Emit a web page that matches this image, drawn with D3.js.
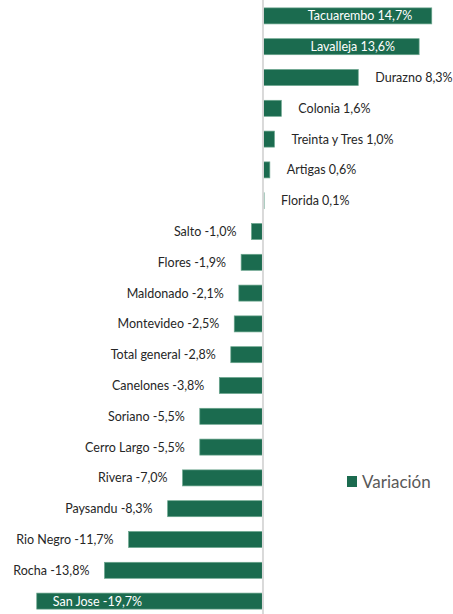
<!DOCTYPE html>
<html>
<head>
<meta charset="utf-8">
<script src="https://cdn.jsdelivr.net/npm/d3@7"></script>
<style>
  body { margin: 0; background: #fff; }
  svg { display: block; }
</style>
</head>
<body>
<div id="chart"></div>
<script>
// departamentos y variacion (%)
var categories = ["Tacuarembo", "Lavalleja", "Durazno", "Colonia", "Treinta y Tres", "Artigas", "Florida",
    "Salto", "Flores", "Maldonado", "Montevideo", "Total general", "Canelones", "Soriano",
    "Cerro Largo", "Rivera", "Paysandu", "Rio Negro", "Rocha", "San Jose"];
var values = [14.7, 13.6, 8.3, 1.6, 1.0, 0.6, 0.1,
    -1.0, -1.9, -2.1, -2.5, -2.8, -3.8, -5.5,
    -5.5, -7.0, -8.3, -11.7, -13.8, -19.7];
var seriesName = "Variación";

var data = categories.map(function(c, i) { return {name: c, value: values[i]}; });

var width = 453, height = 614;
var fmt = function(v) { return v.toFixed(1).replace(".", ","); };

var svg = d3.select("#chart")
    .append("svg")
    .attr("width", width)
    .attr("height", height);

var x = d3.scaleLinear()
    .domain([-22.9, 16.55])
    .range([0, width]);

var y = d3.scaleBand()
    .domain(categories)
    .range([0.5, 616.5])
    .paddingInner(0.48)
    .paddingOuter(0.24);

var barColor = "#1b6b4f";

// bars
svg.append("g")
    .selectAll("rect")
    .data(data)
    .enter()
    .append("rect")
    .attr("x", function(d) { return x(Math.min(0, d.value)); })
    .attr("y", function(d) { return y(d.name); })
    .attr("width", function(d) { return Math.abs(x(d.value) - x(0)); })
    .attr("height", y.bandwidth())
    .attr("fill", barColor)
    .attr("stroke", "#6aa58d")
    .attr("stroke-width", 0.7);

// zero line
svg.append("line")
    .attr("x1", x(0)).attr("x2", x(0))
    .attr("y1", 0).attr("y2", height)
    .style("stroke", "#d9d9d9")
    .style("stroke-width", 2);

// labels
var labels = svg.append("g")
    .style("font-family", "Lato, 'Noto Sans', sans-serif")
    .style("font-size", "12.5px")
    .selectAll("text")
    .data(data)
    .enter()
    .append("text")
    .text(function(d) { return d.name + " " + fmt(d.value) + "%"; })
    .attr("y", function(d) { return y(d.name) + y.bandwidth() / 2; })
    .attr("dy", "0.36em");

labels.each(function(d) {
    var t = d3.select(this);
    var w = this.getComputedTextLength();
    if (d.value >= 0) {
        var xo = x(d.value) + 17;
        if (xo + w > width) {
            // no entra afuera -> adentro
            t.attr("x", x(0) + (x(d.value) - x(0)) * 0.575).attr("text-anchor", "middle").attr("fill", "#fff");
        } else {
            t.attr("x", xo).attr("text-anchor", "start").attr("fill", "#262626");
        }
    } else {
        var xn = x(d.value) - 15;
        if (xn - w < 0) {
            t.attr("x", x(d.value) + 16).attr("text-anchor", "start").attr("fill", "#fff");
        } else {
            t.attr("x", xn).attr("text-anchor", "end").attr("fill", "#262626");
        }
    }
});

// legend
var legend = svg.append("g")
    .attr("transform", "translate(347,476)");
legend.append("rect")
    .attr("width", 10).attr("height", 11)
    .attr("fill", barColor);
legend.append("text")
    .attr("x", 15).attr("y", 6)
    .attr("dy", "0.36em")
    .style("font-family", "Lato, 'Noto Sans', sans-serif")
    .style("font-size", "17px")
    .attr("fill", "#595959")
    .text(seriesName);
</script>
</body>
</html>
